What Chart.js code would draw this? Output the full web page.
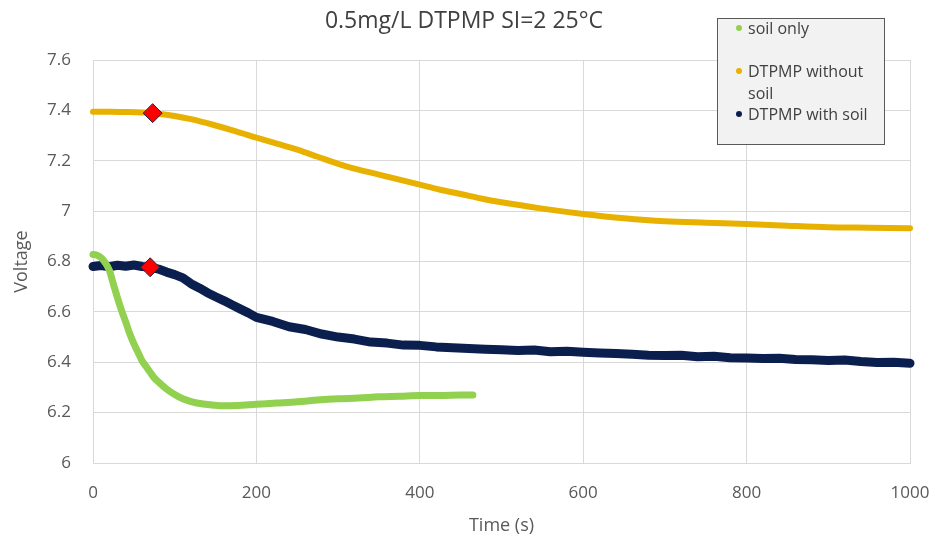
<!DOCTYPE html>
<html>
<head>
<meta charset="utf-8">
<script src="https://cdn.jsdelivr.net/npm/chart.js@4"></script>
<style>
  body { margin: 0; background: #fff; }
  #wrap { position: relative; width: 935px; height: 542px; font-family: "Open Sans", sans-serif; }
  #title { position: absolute; left: 0; width: 928px; top: 3px; text-align: center; font-size: 23px; color: #404040; }
  #legend { position: absolute; left: 717px; top: 18px; width: 166px; height: 125px; background: #f2f2f2; border: 1.5px solid #595959; }
  .item { position: absolute; left: 30px; font-size: 16px; color: #404040; line-height: 20px; white-space: nowrap; }
  .dot { position: absolute; left: -12px; top: 7px; width: 6px; height: 6px; border-radius: 50%; }
</style>
</head>
<body>
<div id="wrap">
  <canvas id="chart" width="935" height="542"></canvas>
  <div id="title">0.5mg/L DTPMP SI=2 25°C</div>
  <div id="legend"></div>
</div>
<script>
// time (s) and voltage readings
const soilTime = [0, 5, 10, 15, 20, 25, 30, 35, 40, 45, 50, 55, 60, 65, 70, 75, 80, 90, 100, 110, 120, 135, 150, 160, 175, 200, 225, 250, 275, 300, 325, 350, 375, 400, 425, 450, 465];
const soilVolt = [6.828, 6.825, 6.815, 6.795, 6.765, 6.71, 6.655, 6.605, 6.56, 6.513, 6.474, 6.44, 6.406, 6.383, 6.36, 6.338, 6.322, 6.294, 6.272, 6.255, 6.244, 6.234, 6.229, 6.227, 6.228, 6.233, 6.238, 6.243, 6.25, 6.255, 6.258, 6.263, 6.265, 6.268, 6.268, 6.27, 6.27];

const noSoilTime = [0, 20, 40, 60, 73, 100, 120, 150, 175, 200, 225, 250, 275, 300, 325, 350, 375, 400, 425, 450, 475, 500, 550, 600, 650, 700, 750, 800, 850, 900, 950, 1000];
const noSoilVolt = [7.395, 7.395, 7.394, 7.392, 7.389, 7.378, 7.365, 7.34, 7.317, 7.292, 7.268, 7.244, 7.216, 7.188, 7.165, 7.145, 7.125, 7.105, 7.085, 7.068, 7.05, 7.035, 7.01, 6.989, 6.972, 6.96, 6.954, 6.949, 6.942, 6.936, 6.934, 6.932];

const withSoilTime = [0, 10, 20, 30, 40, 50, 60, 70, 80, 90, 100, 110, 120, 130, 140, 150, 160, 170, 180, 190, 200, 220, 240, 260, 280, 300, 320, 340, 360, 380, 400, 420, 440, 460, 480, 500, 520, 540, 560, 580, 600, 620, 640, 660, 680, 700, 720, 740, 760, 780, 800, 820, 840, 860, 880, 900, 920, 940, 960, 980, 1000];
const withSoilVolt = [6.78, 6.784, 6.779, 6.785, 6.781, 6.786, 6.78, 6.778, 6.77, 6.758, 6.748, 6.735, 6.712, 6.695, 6.676, 6.66, 6.645, 6.628, 6.612, 6.596, 6.578, 6.562, 6.541, 6.53, 6.512, 6.5, 6.492, 6.48, 6.476, 6.468, 6.467, 6.461, 6.458, 6.455, 6.452, 6.45, 6.447, 6.449, 6.442, 6.444, 6.44, 6.437, 6.435, 6.432, 6.428, 6.427, 6.428, 6.422, 6.424, 6.418, 6.417, 6.415, 6.416, 6.411, 6.41, 6.407, 6.409, 6.403, 6.399, 6.4, 6.396];

// red diamonds
const markTime = [73, 70];
const markVolt = [7.389, 6.777];

const xTicks = [0, 200, 400, 600, 800, 1000];
const yTicks = [6, 6.2, 6.4, 6.6, 6.8, 7, 7.2, 7.4, 7.6];

const seriesNames = ['soil only', 'DTPMP without soil', 'DTPMP with soil'];
const seriesColors = ['#92d050', '#e8b100', '#0b1f4e'];

const pts = (xs, ys) => xs.map((x, i) => ({ x: x, y: ys[i] }));

// legend box
const legendRows = [
  { text: 'soil only', top: -1, dot: 0 },
  { text: 'DTPMP without', top: 42, dot: 1 },
  { text: 'soil', top: 64, dot: -1 },
  { text: 'DTPMP with soil', top: 85, dot: 2 },
];
const legend = document.getElementById('legend');
legendRows.forEach(r => {
  const d = document.createElement('div');
  d.className = 'item';
  d.style.top = r.top + 'px';
  d.textContent = r.text;
  if (r.dot >= 0) {
    const dot = document.createElement('span');
    dot.className = 'dot';
    dot.style.background = seriesColors[r.dot];
    d.appendChild(dot);
  }
  legend.appendChild(d);
});

const lineDefaults = {
  showLine: true,
  pointRadius: 0,
  borderCapStyle: 'round',
  borderJoinStyle: 'round',
  clip: false,
};

new Chart(document.getElementById('chart'), {
  type: 'scatter',
  data: {
    datasets: [
      {
        label: 'markers',
        data: pts(markTime, markVolt),
        pointStyle: 'rectRot',
        pointRadius: 9.5,
        backgroundColor: '#ff0000',
        borderColor: '#1f2a44',
        borderWidth: 1,
        clip: false,
      },
      Object.assign({}, lineDefaults, {
        label: seriesNames[0],
        data: pts(soilTime, soilVolt),
        borderColor: seriesColors[0],
        borderWidth: 7,
        cubicInterpolationMode: 'monotone',
      }),
      Object.assign({}, lineDefaults, {
        label: seriesNames[2],
        data: pts(withSoilTime, withSoilVolt),
        borderColor: seriesColors[2],
        borderWidth: 9,
      }),
      Object.assign({}, lineDefaults, {
        label: seriesNames[1],
        data: pts(noSoilTime, noSoilVolt),
        borderColor: seriesColors[1],
        borderWidth: 6,
        cubicInterpolationMode: 'monotone',
      }),
    ],
  },
  options: {
    responsive: false,
    animation: false,
    layout: { padding: { top: 60, right: 25, left: 0, bottom: 0 } },
    plugins: {
      legend: { display: false },
      tooltip: { enabled: false },
      title: { display: false },
    },
    scales: {
      x: {
        type: 'linear',
        min: 0,
        max: 1000,
        afterBuildTicks: s => { s.ticks = xTicks.map(v => ({ value: v })); },
        afterFit: s => { s.height = 79; s.paddingLeft = 0; s.paddingRight = 0; },
        grid: { color: '#d9d9d9', drawTicks: false },
        border: { color: '#d9d9d9' },
        ticks: { padding: 20, color: '#595959', font: { family: 'Open Sans', size: 17 }, maxRotation: 0, callback: v => String(v) },
        title: { display: true, text: 'Time (s)', color: '#595959', font: { family: 'Open Sans', size: 18 }, padding: { bottom: 5 } },
      },
      y: {
        min: 6,
        max: 7.6,
        afterBuildTicks: s => { s.ticks = yTicks.map(v => ({ value: v })); },
        afterFit: s => { s.width = 93; s.paddingTop = 0; s.paddingBottom = 0; },
        grid: { color: '#d9d9d9', drawTicks: false },
        border: { color: '#d9d9d9' },
        ticks: {
          padding: 22,
          color: '#595959',
          font: { family: 'Open Sans', size: 17 },
          callback: v => String(Number(v.toFixed(1))),
        },
        title: { display: true, text: 'Voltage', color: '#595959', font: { family: 'Open Sans', size: 18 }, padding: { top: 11 } },
      },
    },
  },
});
</script>
</body>
</html>
